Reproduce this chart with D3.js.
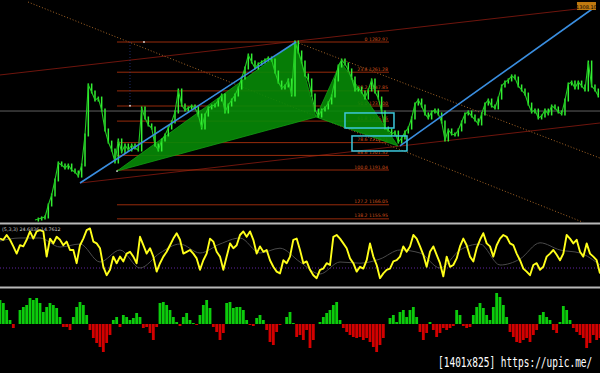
<!DOCTYPE html>
<html>
<head>
<meta charset="utf-8">
<script src="https://cdn.jsdelivr.net/npm/d3@7"></script>
<style>
body{margin:0;background:#000;}
svg{display:block;}
</style>
</head>
<body>
<svg id="chart" width="600" height="373"></svg>
<script>

// PRICE CLOSES, ONE PER BAR
var closes = [
1155.1,1155.8,1156.6,1157.3,1165.9,1173.1,1183.9,1196.1,1194.6,1192.5,
1194.6,1191.0,1189.6,1186.7,1194.6,1216.2,1252.1,1247.1,1241.3,1242.7,
1234.1,1219.8,1211.1,1205.4,1196.8,1212.6,1204.0,1209.0,1205.4,1209.0,
1206.8,1205.4,1235.6,1228.4,1223.4,1221.2,1209.0,1205.4,1212.6,1216.2,
1221.2,1225.5,1232.7,1248.5,1237.7,1234.1,1235.6,1237.0,1235.6,1230.5,
1221.2,1230.5,1235.6,1237.0,1237.7,1241.3,1244.9,1232.7,1237.7,1241.3,
1244.9,1249.9,1257.1,1264.3,1273.6,1268.6,1264.3,1267.2,1268.6,1270.0,
1271.5,1270.0,1261.4,1254.2,1249.9,1251.4,1255.7,1244.9,1283.0,1275.8,
1268.6,1259.3,1255.7,1244.9,1234.1,1229.8,1234.1,1235.6,1239.2,1244.2,
1255.7,1265.7,1270.0,1267.2,1262.9,1257.1,1248.5,1249.9,1247.1,1242.7,
1248.5,1255.7,1247.1,1242.7,1232.7,1221.2,1219.8,1216.9,1218.3,1211.1,
1214.0,1218.3,1221.2,1228.4,1238.4,1241.3,1237.0,1231.3,1228.4,1232.7,
1234.1,1231.3,1225.5,1212.6,1219.8,1216.9,1216.2,1219.8,1225.5,1231.3,
1232.7,1229.8,1227.0,1224.1,1231.3,1238.4,1241.3,1237.0,1235.6,1242.7,
1251.4,1254.2,1255.7,1258.6,1257.1,1251.4,1248.5,1245.6,1238.4,1232.7,
1234.1,1228.4,1229.8,1234.1,1231.3,1237.0,1235.6,1232.7,1231.3,1241.3,
1252.8,1254.2,1249.9,1254.2,1251.4,1248.5,1268.6,1251.4,1248.5,1244.2
];
var currentPrice = 1233.4;
var topLabel = "1308.10";

// FIBONACCI LEVELS
var fibRatios = ["0", "23.6", "38.2", "50.0", "61.8", "78.6", "88.6", "100.0", "127.2", "138.2"];
var fibPrices = [1282.97, 1261.28, 1247.85, 1237.00, 1226.16, 1210.71, 1201.52, 1191.04, 1166.05, 1155.95];
var fibBars = [24.6, 106.2];

// HARMONIC PATTERN X A B C D
var patternBars = [24.6, 78.3, 84.3, 91.8, 108.9];
var patternPrices = [1190.3, 1282.97, 1229.1, 1268.6, 1208.3];

// TREND LINES  [bar1, price1, bar2, price2]
var blueLines = [[13.5, 1181.7, 78.3, 1282.97], [109.5, 1208.3, 168, 1308.1]];
var channelLines = [[-10.5, 1259.3, 162.9, 1306.7], [13.5, 1181.7, 169.5, 1224.8]];
var dottedLines = [[78.3, 1282.97, 169.5, 1199.6], [-2.1, 1311.7, 169.5, 1148.7]];

// TARGET BOXES [bar1, price1, bar2, price2]
var boxes = [[93.0, 1232.0, 107.7, 1221.2], [95.1, 1215.5, 111.6, 1204.7]];
var markers = [[24.6, 1190.3], [32.7, 1282.97], [28.5, 1237.2]];

// STOCHASTIC
var stochMain = [
79,77,85,77,66,54,68,66,77,91,79,91,93,91,49,79,71,82,77,68,
74,60,60,38,68,79,93,96,74,71,63,32,18,27,49,38,49,41,54,57,
49,38,82,68,54,63,49,24,38,49,57,68,79,88,77,54,57,60,54,46,
27,43,54,79,74,57,49,27,49,71,63,68,85,91,82,91,77,54,66,57,
60,43,32,24,21,43,38,49,77,79,
60,38,41,27,18,13,27,29,38,35,82,85,79,71,63,46,38,24,32,29,
43,71,49,35,13,21,27,29,41,43,49,66,57,66,85,79,66,52,32,57,
66,52,38,16,49,32,35,46,66,79,68,49,41,63,77,88,71,66,49,68,
79,85,82,71,68,54,43,29,24,18,35,38,27,32,49,54,60,52,43,54,
85,79,71,77,57,49,71,54,49,43,21
];
var stochSignal = [75,80,80,65,70,40,60,30,55,70,55,70,80,55,63,40,20,40,38,45,60,55,30,60,70,35,45,72,60,55,35];
var stochLevel = 30;
var stochText = "(5,3,3) 24.6836 14.7612";

// HISTOGRAM
var histValues = [
24,21,14,4,-4,0,14,17,19,26,24,26,21,12,17,21,19,16,7,-3,
-3,-6,7,17,22,19,9,-6,-14,-19,-23,-28,-19,-11,4,7,-3,9,7,4,
6,11,7,-4,-3,-9,-16,-3,21,22,19,14,7,2,-2,7,11,4,1,-1,
9,19,24,16,-3,-8,-16,-9,21,22,16,17,17,14,4,-1,-2,6,9,4,
-6,-18,-21,-8,-1,0,7,12,1,-13,
-11,-16,-6,-24,-16,0,2,7,11,14,19,22,4,-4,-8,-11,-13,-14,-13,-16,
-14,-18,-23,-28,-21,-14,0,6,9,2,12,14,7,14,17,7,-8,-16,-9,2,
-6,-13,-9,-4,-6,-4,-2,14,9,-2,-4,-3,9,17,21,16,9,4,17,31,
27,19,7,-8,-13,-18,-19,-16,-14,-18,-11,-6,9,12,7,4,-6,-9,2,18,
14,4,-4,-8,-11,-14,-24,-19,-11,-16,-14
];

var watermark = "[1401x825] https://upic.me/";


var svg = d3.select('#chart');
svg.append("rect").attr("width",600).attr("height",373).attr("fill","#000");

// SCALES
var xBar = d3.scaleLinear().domain([0, closes.length-1]).range([35, 598.3]);
var yPrice = d3.scaleLinear().domain([1282.97, 1191.04]).range([42, 170]);
var xOsc = d3.scaleLinear().domain([0, stochMain.length-1]).range([0, 600]);
var xSig = d3.scaleLinear().domain([0, stochSignal.length-1]).range([0, 600]);
var yStoch = d3.scaleLinear().domain([0, 100]).range([286, 226]);
var yHist = d3.scaleLinear().domain([-49, 36]).range([373, 288]);

draw_main();
draw_stoch();
draw_hist();
draw_frame();


function seg(g, d, color, width, dash){
    g.append("line")
        .attr("x1", xBar(d[0])).attr("y1", yPrice(d[1]))
        .attr("x2", xBar(d[2])).attr("y2", yPrice(d[3]))
        .attr("stroke", color)
        .attr("stroke-width", width)
        .attr("stroke-dasharray", dash || null);
}


function draw_main(){

    svg.append("clipPath").attr("id","mainclip")
        .append("rect").attr("x",0).attr("y",0).attr("width",600).attr("height",222);

    var g = svg.append("g").attr("clip-path","url(#mainclip)");

    // PRICE LINE
    g.append("line")
        .attr("x1",0).attr("x2",600)
        .attr("y1",yPrice(currentPrice)).attr("y2",yPrice(currentPrice))
        .attr("stroke","#7a7a7a").attr("stroke-width",0.8);

    // CHANNEL + DOTTED LINES
    channelLines.forEach(function(d){ seg(g, d, "#8a1a10", 0.8); });
    dottedLines.forEach(function(d){ seg(g, d, "#b8702a", 0.9, "1,2"); });

    // FIB LEVELS
    fibPrices.forEach(function(p, i){
        var y = yPrice(p);
        g.append("line")
            .attr("x1",xBar(fibBars[0])).attr("x2",xBar(fibBars[1]))
            .attr("y1",y).attr("y2",y)
            .attr("stroke","#a8300c").attr("stroke-width",0.9);
        g.append("text")
            .attr("x",xBar(fibBars[1])-1).attr("y",y-1.5)
            .attr("text-anchor","end")
            .attr("font-family","DejaVu Sans")
            .attr("font-size","4.6px")
            .attr("fill","#d0501a")
            .text(fibRatios[i]+"  "+fibPrices[i].toFixed(2));
    });

    // faint vertical
    g.append("line")
        .attr("x1",xBar(markers[2][0])).attr("x2",xBar(markers[2][0]))
        .attr("y1",yPrice(markers[1][1])).attr("y2",yPrice(markers[2][1]))
        .attr("stroke","#2a3e9a").attr("stroke-width",0.7).attr("stroke-dasharray","1,2");

    // HARMONIC TRIANGLES
    var pts = patternBars.map(function(b,i){ return [xBar(b), yPrice(patternPrices[i])]; });
    var tri = [[pts[0],pts[1],pts[2]], [pts[2],pts[3],pts[4]]];
    tri.forEach(function(t){
        g.append("path")
            .attr("d", d3.line()(t) + "Z")
            .attr("fill","#078a07")
            .attr("fill-opacity",0.9)
            .attr("stroke","#13a013")
            .attr("stroke-width",0.8);
    });

    // BARS
    for(var i=1;i<closes.length;i++){
        var a = closes[i-1], b = closes[i];
        g.append("line")
            .attr("x1",xBar(i)).attr("x2",xBar(i))
            .attr("y1",yPrice(Math.max(a,b))-1.5).attr("y2",yPrice(Math.min(a,b))+1.5)
            .attr("stroke","#33f033").attr("stroke-width",1.5);
    }
    g.append("path")
        .datum(closes)
        .attr("d", d3.line().x(function(d,i){return xBar(i);}).y(function(d){return yPrice(d);}))
        .attr("fill","none")
        .attr("stroke","#22cc22")
        .attr("stroke-width",1.1);

    // BLUE TREND LINES
    blueLines.forEach(function(d){ seg(g, d, "#3a8ee0", 1.6); });

    // TARGET BOXES
    boxes.forEach(function(d){
        var x1 = xBar(d[0]), x2 = xBar(d[2]);
        var y1 = yPrice(d[1]), y2 = yPrice(d[3]);
        g.append("rect")
            .attr("x",x1).attr("y",y1)
            .attr("width",x2-x1).attr("height",y2-y1)
            .attr("fill","none")
            .attr("stroke","#3cc8dc").attr("stroke-width",1.5);
    });

    // MARKER DOTS
    markers.forEach(function(d){
        g.append("circle")
            .attr("cx",xBar(d[0])).attr("cy",yPrice(d[1])).attr("r",0.9)
            .attr("fill","#ddd");
    });

    // TOP RIGHT LABEL
    var lx = xBar(blueLines[1][2]);
    var ly = yPrice(blueLines[1][3]);
    g.append("rect")
        .attr("x",lx-18).attr("y",ly-5)
        .attr("width",19).attr("height",8)
        .attr("fill","#c07a10");
    g.append("text")
        .attr("x",lx-8.5).attr("y",ly+1.5)
        .attr("text-anchor","middle")
        .attr("font-family","DejaVu Sans")
        .attr("font-size","5px")
        .attr("fill","#000")
        .text(topLabel);
}


function draw_stoch(){

    var g = svg.append("g");

    g.append("line")
        .attr("x1",0).attr("x2",600)
        .attr("y1",yStoch(stochLevel)).attr("y2",yStoch(stochLevel))
        .attr("stroke","#7a2ec8").attr("stroke-width",0.8)
        .attr("stroke-dasharray","1,2");

    g.append("path")
        .datum(stochSignal)
        .attr("d", d3.line().curve(d3.curveMonotoneX).x(function(d,i){return xSig(i);}).y(function(d){return yStoch(d);}))
        .attr("fill","none")
        .attr("stroke","#4a4a4a")
        .attr("stroke-width",1);

    g.append("path")
        .datum(stochMain)
        .attr("d", d3.line().x(function(d,i){return xOsc(i);}).y(function(d){return yStoch(d);}))
        .attr("fill","none")
        .attr("stroke","#ffff1a")
        .attr("stroke-width",1.9)
        .attr("stroke-linejoin","round");

    g.append("text")
        .attr("x",2).attr("y",231)
        .attr("font-family","DejaVu Sans")
        .attr("font-size","4.8px")
        .attr("fill","#c8c8c8")
        .text(stochText);
}


function draw_hist(){

    var g = svg.append("g");
    var w = 2.8;

    g.selectAll("rect.bar")
        .data(histValues)
        .enter()
        .append("rect")
        .attr("class","bar")
        .attr("x",function(d,i){ return xOsc(i)-w/2; })
        .attr("y",function(d){ return d>=0 ? yHist(d) : yHist(0); })
        .attr("width",w)
        .attr("height",function(d){ return Math.abs(yHist(d)-yHist(0)); })
        .attr("fill",function(d){ return d>=0 ? "#0ccc0c" : "#d40000"; });

    // watermark, narrow mono font stretched tall
    g.append("text")
        .attr("transform","translate(438,367) scale(1,1.42)")
        .attr("font-family","DejaVu Sans Mono")
        .attr("font-size","9.5px")
        .attr("fill","#fff")
        .text(watermark);
}


function draw_frame(){
    // PANEL SEPARATORS
    [223.5, 287.5].forEach(function(y){
        svg.append("line")
            .attr("x1",0).attr("x2",600)
            .attr("y1",y).attr("y2",y)
            .attr("stroke","#b8b8b8").attr("stroke-width",2);
    });
}

</script>
</body>
</html>
